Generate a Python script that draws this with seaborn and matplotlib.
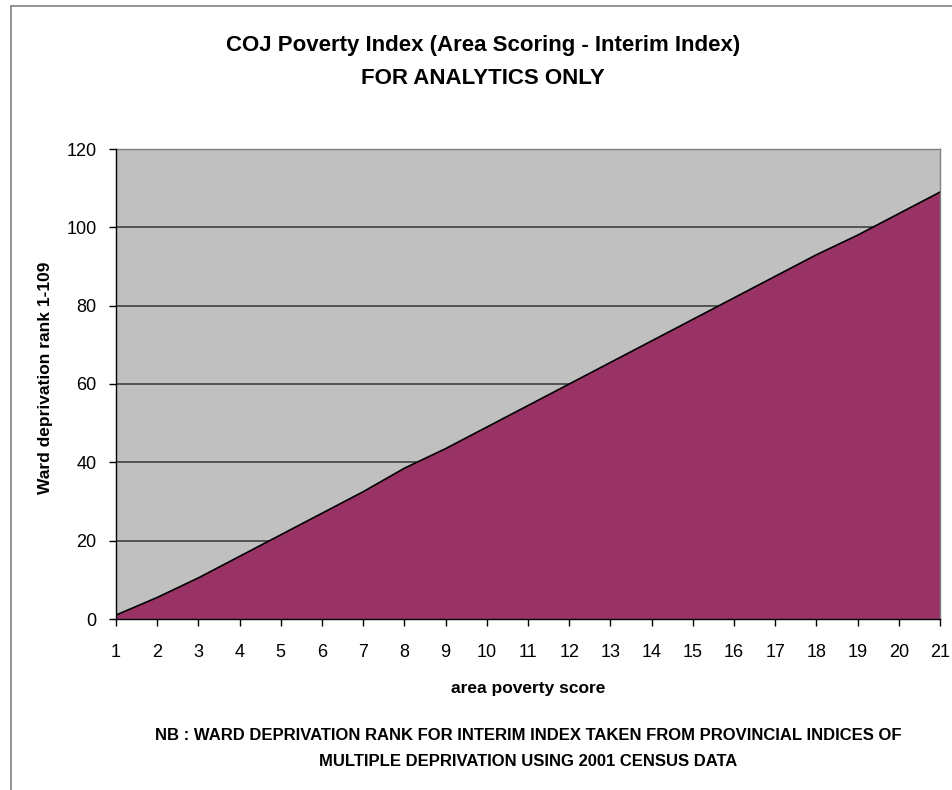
import matplotlib
matplotlib.use("Agg")
import matplotlib.pyplot as plt
import seaborn as sns
import pandas as pd
from matplotlib.patches import Rectangle

# values
scores = list(range(1, 22))
ranks = [1, 5.5, 10.5, 16, 21.5, 27, 32.5, 38.5, 43.5, 49, 54.5,
         60, 65.5, 71, 76.5, 82, 87.5, 93, 98, 103.5, 109]
y_ticks = [0, 20, 40, 60, 80, 100, 120]

df = pd.DataFrame({"score": scores, "rank": ranks})

sns.set_theme(style="white")
plt.rcParams['font.family'] = ['Liberation Sans', 'DejaVu Sans']
plt.rcParams['text.color'] = 'black'
plt.rcParams['axes.labelcolor'] = 'black'
plt.rcParams['xtick.color'] = 'black'
plt.rcParams['ytick.color'] = 'black'

fig = plt.figure(figsize=(9.53, 7.9), dpi=100)
ax = fig.add_axes([116/953, 1 - 619/790, (940-116)/953, (619-149)/790])
ax.set_facecolor("#C0C0C0")

ax.fill_between(df["score"], df["rank"], 0, color="#993366", zorder=2)
sns.lineplot(data=df, x="score", y="rank", color="black", linewidth=1.2, ax=ax, zorder=3)

ax.set_xlim(1, 21)
ax.set_ylim(0, 120)
ax.set_xticks(scores)
ax.set_yticks(y_ticks)
ax.yaxis.grid(True, color="#404040", linewidth=1.2, zorder=1)
ax.set_axisbelow(True)

for s in ["top", "right"]:
    ax.spines[s].set_color("#808080")
    ax.spines[s].set_linewidth(1)
for s in ["left", "bottom"]:
    ax.spines[s].set_color("black")
    ax.spines[s].set_linewidth(1)
    ax.spines[s].set_zorder(4)

ax.tick_params(axis="both", direction="out", length=5, width=1,
               labelsize=13, left=True, bottom=True)
ax.tick_params(axis="x", pad=13)
ax.tick_params(axis="y", pad=9)

ax.set_xlabel("area poverty score", fontsize=12.5, fontweight="bold")
ax.set_ylabel("Ward deprivation rank 1-109", fontsize=12.5, fontweight="bold")
ax.xaxis.set_label_coords(0.5, (619 - 681) / 470)
ax.yaxis.set_label_coords((53 - 116) / 824, (619 - 378) / 470)

fig.text(483/953, 1 - 45/790, "COJ Poverty Index (Area Scoring - Interim Index)",
         ha="center", va="center", fontsize=16, fontweight="bold")
fig.text(483/953, 1 - 78/790, "FOR ANALYTICS ONLY",
         ha="center", va="center", fontsize=16, fontweight="bold")
fig.text(528/953, 1 - 735/790,
         "NB : WARD DEPRIVATION RANK FOR INTERIM INDEX TAKEN FROM PROVINCIAL INDICES OF",
         ha="center", va="center", fontsize=12, fontweight="bold")
fig.text(528/953, 1 - 762/790, "MULTIPLE DEPRIVATION USING 2001 CENSUS DATA",
         ha="center", va="center", fontsize=12, fontweight="bold")

# outer chart border (extends past right and bottom edges)
fig.patches.append(Rectangle((11/953, -0.1), 1.2, 1.1 - 6/790, transform=fig.transFigure,
                             fill=False, edgecolor="#808080", linewidth=1.2))

fig.savefig("out.png", dpi=100)
